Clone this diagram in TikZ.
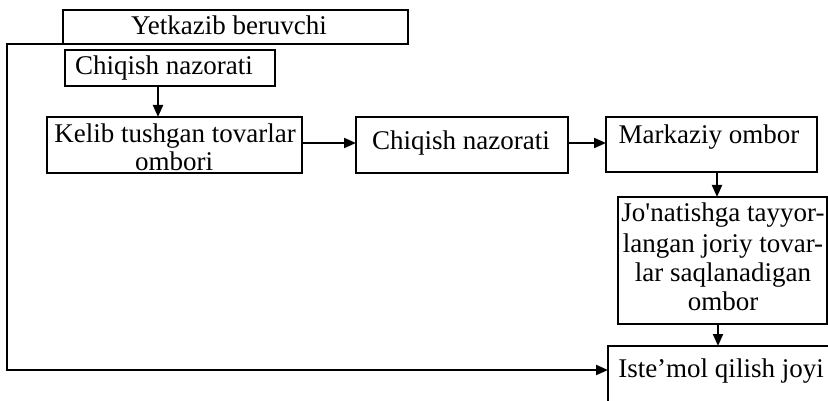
\documentclass[tikz,border=0pt]{standalone}
\usepackage{fontspec}
\setmainfont{Liberation Serif}
\usetikzlibrary{arrows.meta}
\begin{document}
\begin{tikzpicture}[x=1pt,y=-1pt,
  box/.style={draw, line width=2pt, inner sep=0pt, outer sep=0pt, rectangle},
  txt/.style={inner sep=0pt, anchor=base, font=\fontsize{27}{29}\selectfont},
  arr/.style={line width=2pt, -{Triangle[length=12pt,width=10pt]}}]
\useasboundingbox (0,0) rectangle (828,401);
% boxes
\node[box, minimum width=345pt, minimum height=34pt] (Y) at (235.5,27) {};
\node[box, minimum width=210pt, minimum height=36pt] (C1) at (170,68) {};
\node[box, minimum width=255pt, minimum height=56pt] (K) at (174.5,145) {};
\node[box, minimum width=212pt, minimum height=56pt] (C2) at (462,145) {};
\node[box, minimum width=211pt, minimum height=55pt] (M) at (711.5,144.5) {};
\node[box, minimum width=209pt, minimum height=127pt] (J) at (722.5,260.5) {};
\node[box, minimum width=252pt, minimum height=84pt] (I) at (734,388) {};
% texts
\node[txt] (Yt) at (229,35) {Yetkazib beruvchi};
\node[txt] (C1t) at (164,75) {Chiqish nazorati};
\node[txt] (Kt1) at (175,143) {Kelib tushgan tovarlar};
\node[txt] (Kt2) at (174,171) {ombori};
\node[txt] (C2t) at (461,150) {Chiqish nazorati};
\node[txt] (Mt) at (709,144) {Markaziy ombor};
\node[txt] (Jt1) at (723,222) {Jo\textquotesingle natishga tayyor-};
\node[txt] (Jt2) at (723,252) {langan joriy tovar-};
\node[txt] (Jt3) at (723,281) {lar saqlanadigan};
\node[txt] (Jt4) at (723,310) {ombor};
\node[txt] (It) at (721,377) {Iste’mol qilish joyi};
% connectors
\coordinate (lc) at (7,44);
\draw[arr] ([xshift=-12pt]C1.south) -- ([xshift=-12pt]C1.south |- K.north);
\draw[arr] ([yshift=2pt]K.east) -- ([yshift=2pt]K.east -| C2.west);
\draw[arr] ([yshift=2pt]C2.east) -- ([yshift=2pt]C2.east -| M.west);
\draw[arr] ([xshift=5.5pt]M.south) -- ([xshift=5.5pt]M.south |- J.north);
\draw[arr] ([xshift=-4.5pt]J.south) -- ([xshift=-4.5pt]J.south |- I.north);
\draw[arr] (Y.south west) -- (lc) |- ([yshift=-24pt]I.north west);
\end{tikzpicture}
\end{document}
